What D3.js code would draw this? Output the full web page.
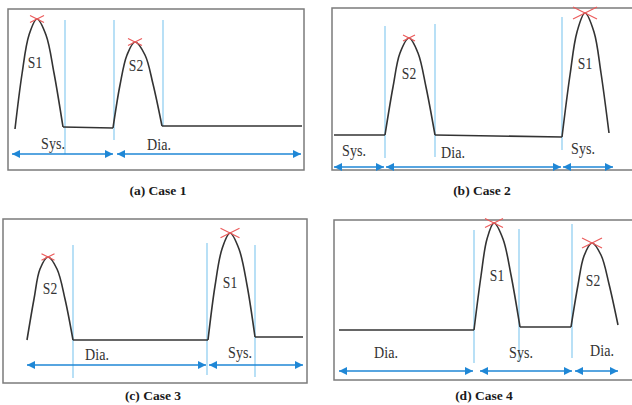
<!DOCTYPE html>
<html>
<head>
<meta charset="utf-8">
<script src="https://cdn.jsdelivr.net/npm/d3@7"></script>
<style>
  body { margin: 0; background: #fff; }
  svg { display: block; }
  text { font-family: "Liberation Serif", "Times New Roman", serif; }
</style>
</head>
<body>
<svg id="chart" width="632" height="405"></svg>
<script>
// captions
const captions = ["(a) Case 1", "(b) Case 2", "(c) Case 3", "(d) Case 4"];

// heart sound traces: segments of [time, amplitude]
const trace1 = [
  [[7,41],[14,96],[21,135],[29,151],[38,135],[46,97],[55,43]],
  [[55,43],[105,42]],
  [[105,42],[112,85],[119,115],[127,128],[137,115],[145,86],[154,44]],
  [[154,44],[294,44]]
];
const trace2 = [
  [[2,35],[53,35]],
  [[53,35],[61,83],[68,117],[77,132],[86,117],[94,83],[103,35]],
  [[103,35],[230,33]],
  [[230,33],[238,95],[245,138],[253,157],[262,138],[269,97],[277,37]]
];
const trace3 = [
  [[24,43],[31,84],[37,114],[45,126],[54,114],[62,84],[70,43]],
  [[70,43],[205,43]],
  [[205,43],[212,97],[219,134],[227,150],[236,134],[244,98],[252,46]],
  [[252,46],[300,46]]
];
const trace4 = [
  [[5,50],[140,50]],
  [[140,50],[147,104],[153,141],[160,157],[169,141],[177,105],[186,53]],
  [[186,53],[237,53]],
  [[237,53],[244,95],[250,124],[258,137],[267,125],[275,96],[284,55]]
];

// boundaries: [time, top amp, bottom amp]
const dividers1 = [[57,150,16],[106,150,30],[155,150,44]];
const dividers2 = [[53,144,12],[103,146,13],[230,153,20]];
const dividers3 = [[70,138,5],[204,140,8],[252,138,6]];
const dividers4 = [[140,150,17],[185,151,18],[238,156,22]];

// phase spans (double arrows): [from, to]
const spans1 = [[4,105],[109,293]];
const spans2 = [[2,52],[54,229],[231,281]];
const spans3 = [[24,203],[206,300]];
const spans4 = [[5,139],[146,238],[241,284]];
// arrow row height per panel (amp units)
const spanRow = [16, 3, 18, 9];

// phase labels: [text, time, amp]
const phases1 = [["Sys.",45,27],["Dia.",151,26]];
const phases2 = [["Sys.",22,20],["Dia.",121,18],["Sys.",251,22]];
const phases3 = [["Dia.",94,29],["Sys.",237,31]];
const phases4 = [["Dia.",52,28],["Sys.",187,28],["Dia.",268,30]];

// sounds: [name, peak time, peak amp, label time, label amp, mark size]
const sounds1 = [["S1",29,151,27,108,14],["S2",127,128,128,105,14]];
const sounds2 = [["S2",77,132,77,97,12],["S1",253,157,253,107,24]];
const sounds3 = [["S2",45,126,47,95,13],["S1",227,150,227,101,19]];
const sounds4 = [["S1",160,157,163,105,18],["S2",258,137,259,100,20]];

const traces = [trace1, trace2, trace3, trace4];
const dividers = [dividers1, dividers2, dividers3, dividers4];
const spans = [spans1, spans2, spans3, spans4];
const phases = [phases1, phases2, phases3, phases4];
const sounds = [sounds1, sounds2, sounds3, sounds4];

// panel frames (layout)
const frames = [
  {x: 8,   y: 9,   w: 296, h: 161, cap: 190},
  {x: 332, y: 8,   w: 302, h: 162, cap: 190},
  {x: 3,   y: 219, w: 304, h: 164, cap: 395},
  {x: 334, y: 220, w: 300, h: 160, cap: 395}
];

const svg = d3.select("#chart");
svg.append("defs").append("marker")
  .attr("id", "arrow")
  .attr("viewBox", "0 0 10 10")
  .attr("refX", 10).attr("refY", 5)
  .attr("markerUnits", "userSpaceOnUse")
  .attr("markerWidth", 8).attr("markerHeight", 8)
  .attr("orient", "auto-start-reverse")
  .append("path")
  .attr("d", "M0,0L10,5L0,10z")
  .attr("fill", "#1f87d6");

frames.forEach((f, i) => {
  var x = d3.scaleLinear().domain([0, f.w]).range([f.x, f.x + f.w]);
  var y = d3.scaleLinear().domain([0, f.h]).range([f.y + f.h, f.y]);
  var g = svg.append("g").attr("class", "panel");

  g.append("rect")
    .attr("x", f.x).attr("y", f.y)
    .attr("width", f.w).attr("height", f.h)
    .attr("fill", "none")
    .attr("stroke", "#7b7b7b")
    .attr("stroke-width", 1.5);

  g.selectAll(".divider")
    .data(dividers[i])
    .enter().append("line")
    .attr("class", "divider")
    .attr("x1", d => x(d[0])).attr("x2", d => x(d[0]))
    .attr("y1", d => y(d[1])).attr("y2", d => y(d[2]))
    .attr("stroke", "#93d0f2")
    .attr("stroke-width", 1.3);

  var line = d3.line()
    .x(d => x(d[0]))
    .y(d => y(d[1]))
    .curve(d3.curveCatmullRom.alpha(0.5));

  g.selectAll(".trace")
    .data(traces[i])
    .enter().append("path")
    .attr("class", "trace")
    .attr("d", line)
    .attr("fill", "none")
    .attr("stroke", "#333")
    .attr("stroke-width", 1.6)
    .attr("stroke-linejoin", "round");

  g.selectAll(".span")
    .data(spans[i])
    .enter().append("line")
    .attr("class", "span")
    .attr("x1", d => x(d[0])).attr("x2", d => x(d[1]))
    .attr("y1", y(spanRow[i])).attr("y2", y(spanRow[i]))
    .attr("stroke", "#1f87d6")
    .attr("stroke-width", 1.3)
    .attr("marker-start", "url(#arrow)")
    .attr("marker-end", "url(#arrow)");

  g.selectAll(".phase")
    .data(phases[i])
    .enter().append("text")
    .attr("class", "phase")
    .attr("transform", d => "translate(" + x(d[1]) + "," + y(d[2]) + ") scale(0.88,1)")
    .attr("dy", "0.35em")
    .attr("text-anchor", "middle")
    .attr("font-size", 16)
    .attr("fill", "#333")
    .text(d => d[0]);

  // red cross on each peak
  var marks = g.selectAll(".mark")
    .data(sounds[i])
    .enter().append("g")
    .attr("class", "mark")
    .attr("transform", d => "translate(" + x(d[1]) + "," + y(d[2]) + ")");
  marks.append("line")
    .attr("x1", d => -d[5] / 2).attr("y1", d => -d[5] * 0.25)
    .attr("x2", d => d[5] / 2).attr("y2", d => d[5] * 0.25);
  marks.append("line")
    .attr("x1", d => -d[5] / 2).attr("y1", d => d[5] * 0.25)
    .attr("x2", d => d[5] / 2).attr("y2", d => -d[5] * 0.25);
  marks.selectAll("line")
    .attr("stroke", "#ec5a5a")
    .attr("stroke-width", 1.2);

  g.selectAll(".sound")
    .data(sounds[i])
    .enter().append("text")
    .attr("class", "sound")
    .attr("transform", d => "translate(" + x(d[3]) + "," + y(d[4]) + ") scale(0.8,1)")
    .attr("dy", "0.35em")
    .attr("text-anchor", "middle")
    .attr("font-size", 17)
    .attr("fill", "#333")
    .text(d => d[0]);

  svg.append("text")
    .attr("x", f.x + 150)
    .attr("y", f.cap)
    .attr("dy", "0.35em")
    .attr("text-anchor", "middle")
    .attr("font-weight", "bold")
    .attr("font-size", 13.5)
    .attr("fill", "#1a1a1a")
    .text(captions[i]);
});
</script>
</body>
</html>
